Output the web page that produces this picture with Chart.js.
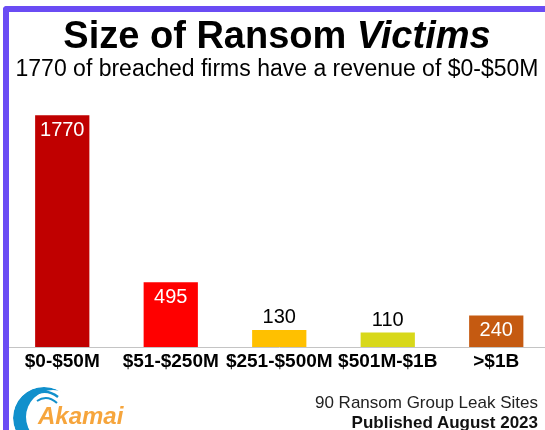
<!DOCTYPE html>
<html>
<head>
<meta charset="utf-8">
<script src="https://cdn.jsdelivr.net/npm/chart.js@4"></script>
<style>
  html, body { margin: 0; padding: 0; background: #fff; overflow: hidden; width: 545px; height: 430px; }
  body { position: relative; font-family: "Liberation Sans", Arial, sans-serif; color: #000; }
  #chartBox { position: absolute; left: 0; top: 0; width: 560px; height: 430px; }
  #frame { position: absolute; left: 3px; top: 6px; width: 560px; height: 440px;
           border-left: 6px solid #6a4cf4; border-top: 6px solid #6a4cf4; border-top-left-radius: 4px;
           box-sizing: border-box; pointer-events: none; }
  .txt { position: absolute; white-space: nowrap; line-height: 1; }
  #title { left: 9px; width: 536px; top: 16px; text-align: center; font-size: 38px; font-weight: bold; }
  #subtitle { left: 9px; width: 536px; top: 57px; text-align: center; font-size: 23px; }
  #src1 { right: 7px; top: 394px; font-size: 17px; color: #222; }
  #src2 { right: 7px; top: 414px; font-size: 17px; font-weight: bold; color: #111; }
  #akamai { left: 38px; top: 404px; font-size: 24px; font-weight: bold; font-style: italic; color: #f6a53c; }
  #swoosh { position: absolute; left: 0; top: 375px; }
</style>
</head>
<body>
<div id="chartBox"><canvas id="chart" width="560" height="430"></canvas></div>

<svg id="swoosh" width="90" height="55" viewBox="0 375 90 55">
  <defs>
    <mask id="cmask">
      <circle cx="44" cy="418" r="31" fill="#fff"></circle>
      <circle cx="53" cy="417" r="27" fill="#000"></circle>
    </mask>
  </defs>
  <circle cx="44" cy="418" r="31" fill="#1190cc" mask="url(#cmask)"></circle>
  <path d="M 33 396 Q 45 387 58 397" fill="none" stroke="#1190cc" stroke-width="2.5"></path>
  <path d="M 37 401 Q 47 394 57 403" fill="none" stroke="#1190cc" stroke-width="2"></path>
</svg>

<div id="title" class="txt">Size of Ransom <i>Victims</i></div>
<div id="subtitle" class="txt">1770 of breached firms have a revenue of $0-$50M</div>
<div id="akamai" class="txt">Akamai</div>
<div id="src1" class="txt">90 Ransom Group Leak Sites</div>
<div id="src2" class="txt">Published August 2023</div>
<div id="frame"></div>

<script>
const categories = ["$0-$50M", "$51-$250M", "$251-$500M", "$501M-$1B", ">$1B"];
const victims = [1770, 495, 130, 110, 240];
const barColors = ["#c00000", "#ff0000", "#ffc000", "#d8d81a", "#c55a11"];

// values drawn inside the bar when the bar is tall enough, otherwise on top
const valueLabels = {
  id: "valueLabels",
  afterDatasetsDraw(chart) {
    const ctx = chart.ctx;
    const meta = chart.getDatasetMeta(0);
    ctx.save();
    ctx.font = "20px 'Liberation Sans', Arial, sans-serif";
    ctx.textAlign = "center";
    ctx.textBaseline = "middle";
    meta.data.forEach((bar, i) => {
      const v = victims[i];
      if (v >= 200) {
        ctx.fillStyle = "#fff";
        ctx.fillText(String(v), bar.x, bar.y + 15);
      } else {
        ctx.fillStyle = "#000";
        ctx.fillText(String(v), bar.x, bar.y - 12);
      }
    });
    ctx.restore();
  },
};

let ransomChart;

function createChart() {
  const canvas = document.querySelector("#chart");

  ransomChart = new Chart(canvas, {
    type: "bar",
    data: {
      labels: categories,
      datasets: [
        {
          label: "Victims",
          data: victims,
          backgroundColor: barColors,
          borderWidth: 0,
          barPercentage: 1,
          categoryPercentage: 0.5,
        },
      ],
    },
    options: {
      responsive: false,
      animation: false,
      layout: {
        padding: { left: 8, right: 9.5, top: 85, bottom: 0 },
      },
      plugins: {
        legend: { display: false },
        title: { display: false },
        tooltip: { enabled: false },
      },
      scales: {
        y: {
          display: false,
          min: 0,
          max: 2000,
        },
        x: {
          grid: { display: false, drawTicks: false },
          border: { display: true, color: "#c4c4c4", width: 1 },
          ticks: {
            color: "#000",
            padding: 3,
            autoSkip: false,
            maxRotation: 0,
            minRotation: 0,
            font: { family: "'Liberation Sans', Arial, sans-serif", size: 19, weight: "bold" },
          },
          afterFit(scale) {
            scale.height = 83;
          },
        },
      },
    },
    plugins: [valueLabels],
  });
}

window.addEventListener("load", () => {
  createChart();
});
</script>
</body>
</html>
